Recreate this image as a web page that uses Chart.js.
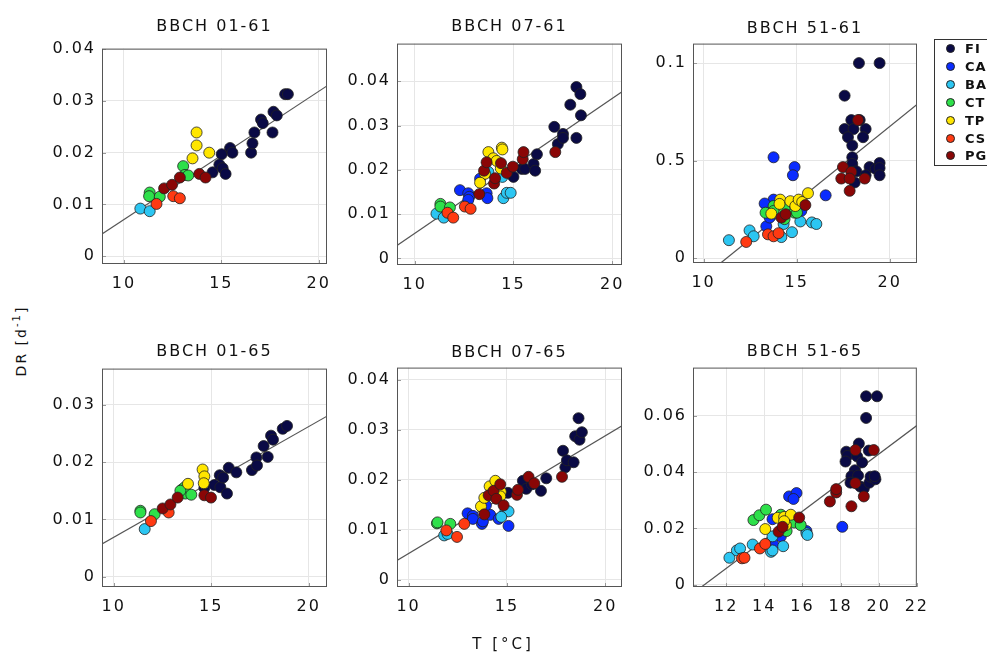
<!DOCTYPE html>
<html>
<head>
<meta charset="UTF-8">
<title>DR vs T</title>
<script src="https://cdn.jsdelivr.net/npm/chart.js"></script>
<style>
  body { margin: 0; background: #fff; width: 987px; height: 653px; overflow: hidden; position: relative;
         font-family: "DejaVu Sans", Verdana, sans-serif; color: #111; }
  canvas { position: absolute; }
  .ttl { position: absolute; text-align: center; font-size: 16px; line-height: 18px; letter-spacing: 2px; }
  .lab { position: absolute; font-size: 15px; line-height: 18px; letter-spacing: 3px; white-space: nowrap; }
  #legend { position: absolute; left: 934px; top: 39px; width: 70px; height: 125px; border: 1px solid #333; }
  .li { position: absolute; left: 12px; font-size: 13px; font-weight: bold; line-height: 14px; letter-spacing: 1px; }
  .li i { position: absolute; left: -1px; top: 2px; width: 9px; height: 9px; border-radius: 50%; border: 1px solid #222; box-sizing: border-box; }
  .li span { position: absolute; left: 18px; top: 0; }
</style>
</head>
<body>

<script>
// site groups, same order in every panel
const groups = ['FI','CA','BA','CT','TP','CS','PG'];
const colors = ['#0a0a45','#0a2cff','#2cc6f2','#2ee04a','#ffe600','#ff3a12','#8a0606'];

const titles = ['BBCH 01-61','BBCH 07-61','BBCH 51-61','BBCH 01-65','BBCH 07-65','BBCH 51-65'];

// axis ranges and ticks per panel
const xRanges = [[8.87,20.43],[9.1,20.5],[9.43,21.47],[9.4,20.94],[9.41,20.85],[10.26,22]];
const yRanges = [[-0.0015,0.0401],[-0.0015,0.0485],[-0.0025,0.110],[-0.0018,0.0363],[-0.0014,0.0424],[-0.0008,0.0772]];
const xTicks = [[10,15,20],[10,15,20],[10,15,20],[10,15,20],[10,15,20],[12,14,16,18,20,22]];
const yTicks = [[0,0.01,0.02,0.03,0.04],[0,0.01,0.02,0.03,0.04],[0,0.05,0.1],[0,0.01,0.02,0.03],[0,0.01,0.02,0.03,0.04],[0,0.02,0.04,0.06]];
const yTickLabels = [['0','0.01','0.02','0.03','0.04'],['0','0.01','0.02','0.03','0.04'],['0','0.5','0.1'],['0','0.01','0.02','0.03'],['0','0.01','0.02','0.03','0.04'],['0','0.02','0.04','0.06']];

// regression line end points
const fitLines = [
  [[8.87,0.0043],[20.43,0.0329]],
  [[9.1,0.0029],[20.5,0.0376]],
  [[10.95,-0.0022],[21.47,0.0788]],
  [[9.4,0.0057],[20.94,0.0280]],
  [[9.41,0.0039],[20.85,0.0308]],
  [[10.7,-0.0008],[22,0.0566]]
];

// --- BBCH 01-61 ---
const p1FI = [[14.55,0.0162],[15.02,0.0197],[14.9,0.0177],[15.07,0.017],[15.22,0.0159],[15.45,0.0209],[15.57,0.02],[16.53,0.02],[16.6,0.0218],[16.7,0.0239],[17.04,0.0264],[17.13,0.0257],[17.63,0.0239],[17.68,0.0279],[17.85,0.0272],[18.28,0.0313],[18.42,0.0313]];
const p1CA = [];
const p1BA = [[10.84,0.0092],[11.32,0.0087]];
const p1CT = [[11.32,0.0123],[11.29,0.0116],[11.84,0.0115],[13.04,0.0174],[13.13,0.0157],[13.3,0.0156]];
const p1TP = [[13.73,0.0239],[13.73,0.0214],[13.52,0.0189],[14.38,0.02]];
const p1CS = [[11.67,0.0101],[12.53,0.0116],[12.87,0.0112]];
const p1PG = [[12.06,0.0131],[12.47,0.0138],[12.87,0.0152],[13.87,0.0159],[14.19,0.0152]];

// --- BBCH 07-61 ---
const p2FI = [[15.0,0.0184],[15.42,0.0202],[15.59,0.0202],[16.02,0.0213],[16.1,0.0198],[16.19,0.0235],[17.07,0.0297],[17.25,0.0258],[17.51,0.0281],[17.51,0.0272],[17.88,0.0347],[18.19,0.0272],[18.19,0.0387],[18.39,0.0371],[18.42,0.0323]];
const p2CA = [[12.29,0.0154],[12.71,0.0147],[12.76,0.0139],[12.71,0.0132],[13.31,0.018],[13.64,0.0147],[13.68,0.0136]];
const p2BA = [[11.1,0.0101],[11.47,0.0092],[13.73,0.0195],[14.44,0.0184],[14.49,0.0136],[14.66,0.0148],[14.86,0.0148]];
const p2CT = [[11.3,0.0123],[11.3,0.0117],[11.78,0.0115]];
const p2TP = [[13.73,0.024],[13.56,0.0191],[13.31,0.0171],[13.98,0.0226],[14.15,0.022],[14.41,0.025],[14.44,0.0246],[14.36,0.0203]];
const p2CS = [[11.66,0.0103],[11.95,0.0092],[12.54,0.0117],[12.83,0.0112]];
const p2PG = [[13.27,0.0145],[13.51,0.0198],[13.64,0.0217],[14.02,0.0169],[14.07,0.0181],[14.37,0.0215],[14.66,0.0193],[14.97,0.0207],[15.47,0.0224],[15.51,0.024],[17.12,0.024]];

// --- BBCH 51-61 ---
const p3FI = [[18.35,0.1],[19.46,0.1],[17.58,0.0833],[17.94,0.0708],[18.39,0.0708],[17.58,0.0662],[18.06,0.0662],[17.76,0.062],[18.71,0.0662],[18.57,0.062],[17.99,0.0578],[17.99,0.0517],[17.99,0.0483],[18.21,0.0445],[18.92,0.0467],[19.25,0.0458],[19.46,0.0488],[19.46,0.0462],[19.46,0.0425],[18.71,0.0425],[18.12,0.0388]];
const p3CA = [[13.76,0.0517],[14.89,0.0467],[14.8,0.0425],[16.56,0.0322],[13.76,0.03],[13.28,0.028],[13.37,0.0163],[13.55,0.0208],[15.25,0.0242]];
const p3BA = [[11.36,0.0092],[12.47,0.0142],[12.69,0.0112],[14.18,0.0108],[14.3,0.0175],[14.75,0.0133],[15.2,0.0188],[15.82,0.0183],[16.06,0.0175]];
const p3CT = [[13.33,0.0233],[13.76,0.0267],[13.76,0.0242],[14.35,0.0255],[14.35,0.02],[14.89,0.0233],[15.02,0.0233]];
const p3TP = [[13.64,0.0228],[14.12,0.03],[14.08,0.0278],[14.66,0.0292],[14.93,0.0267],[15.11,0.03],[15.3,0.0288],[15.61,0.0333]];
const p3CS = [[12.29,0.0083],[13.46,0.0122],[13.76,0.0112],[14.03,0.0128]];
const p3PG = [[17.49,0.0467],[17.94,0.0442],[17.4,0.0408],[17.85,0.0408],[18.66,0.0408],[17.85,0.0345],[18.3,0.0708],[14.18,0.0208],[14.41,0.0225],[15.47,0.0272]];

// --- BBCH 01-65 ---
const p4FI = [[14.65,0.0155],[15.16,0.016],[15.47,0.0156],[15.81,0.0145],[15.44,0.0177],[15.61,0.0173],[15.9,0.019],[16.29,0.0182],[17.09,0.0186],[17.32,0.0208],[17.35,0.0194],[17.9,0.0209],[17.69,0.0228],[18.07,0.0246],[18.17,0.0239],[18.67,0.0258],[18.89,0.0263]];
const p4CA = [];
const p4BA = [[11.59,0.0083]];
const p4CT = [[11.37,0.0115],[11.37,0.0112],[12.1,0.0109],[13.5,0.0152],[13.68,0.0145],[13.64,0.0156],[13.98,0.0143],[13.42,0.015]];
const p4TP = [[13.81,0.0162],[14.56,0.0187],[14.65,0.0175],[14.62,0.0163]];
const p4CS = [[11.91,0.0097],[12.82,0.0112]];
const p4PG = [[12.51,0.0119],[12.91,0.0126],[13.28,0.0138],[14.65,0.0142],[14.99,0.0138]];

// --- BBCH 07-65 ---
const p5FI = [[15.05,0.0174],[15.81,0.0198],[15.98,0.0182],[16.27,0.0191],[16.73,0.0178],[17.0,0.0203],[17.85,0.0258],[17.97,0.0225],[18.05,0.0239],[18.39,0.0235],[18.47,0.0287],[18.64,0.0323],[18.69,0.028],[18.81,0.0295]];
const p5CA = [[13.0,0.0133],[13.27,0.0128],[13.27,0.0122],[13.73,0.0112],[13.78,0.0117],[14.15,0.013],[14.58,0.0122],[15.08,0.0108],[13.93,0.0149]];
const p5BA = [[11.81,0.0089],[11.98,0.0092],[14.92,0.0137],[15.08,0.0137],[14.71,0.0126]];
const p5CT = [[11.44,0.0113],[11.47,0.0115],[12.12,0.0112]];
const p5TP = [[13.68,0.0147],[13.85,0.0164],[14.12,0.0187],[14.41,0.0198],[14.69,0.0176],[14.66,0.0167]];
const p5CS = [[11.92,0.0099],[12.46,0.0086],[12.83,0.0112]];
const p5PG = [[13.85,0.0131],[14.07,0.0169],[14.32,0.0178],[14.46,0.0162],[14.66,0.0191],[14.83,0.0149],[15.51,0.017],[15.56,0.018],[16.1,0.0206],[16.39,0.0193],[17.8,0.0206]];

// --- BBCH 51-65 ---
const p6FI = [[19.34,0.0670],[19.91,0.0670],[19.34,0.0593],[18.96,0.0502],[18.3,0.0473],[18.35,0.0458],[18.26,0.0438],[18.87,0.0456],[19.13,0.0435],[19.48,0.0477],[18.75,0.0407],[18.57,0.0386],[18.92,0.0388],[18.52,0.0363],[19.04,0.0349],[19.22,0.0342],[19.51,0.0363],[19.57,0.0384],[19.83,0.0375],[19.79,0.0386]];
const p6CA = [[15.3,0.0314],[15.69,0.0326],[15.53,0.0305],[14.43,0.0233],[14.87,0.0172],[14.47,0.0143],[16.21,0.0191],[18.09,0.0206]];
const p6BA = [[12.17,0.0096],[12.56,0.0122],[12.73,0.0129],[13.39,0.0143],[14.35,0.0117],[14.43,0.0122],[14.99,0.0137],[14.43,0.0172],[16.21,0.0183],[16.26,0.0177]];
const p6CT = [[13.43,0.023],[13.74,0.0247],[14.09,0.0267],[14.87,0.0249],[15.17,0.0191],[15.57,0.0221],[15.91,0.0212]];
const p6TP = [[14.05,0.0198],[14.7,0.0238],[15.04,0.0241],[15.39,0.0249],[15.13,0.0212],[15.04,0.0226]];
const p6CS = [[12.83,0.0094],[12.96,0.0096],[13.77,0.0129],[14.05,0.0145]];
const p6PG = [[14.75,0.0189],[14.96,0.0206],[15.83,0.0239],[17.44,0.0296],[17.77,0.0328],[17.77,0.034],[18.57,0.0279],[18.78,0.0361],[18.78,0.0479],[19.74,0.0479],[19.22,0.0314]];

const panelData = [
  [p1FI,p1CA,p1BA,p1CT,p1TP,p1CS,p1PG],
  [p2FI,p2CA,p2BA,p2CT,p2TP,p2CS,p2PG],
  [p3FI,p3CA,p3BA,p3CT,p3TP,p3CS,p3PG],
  [p4FI,p4CA,p4BA,p4CT,p4TP,p4CS,p4PG],
  [p5FI,p5CA,p5BA,p5CT,p5TP,p5CS,p5PG],
  [p6FI,p6CA,p6BA,p6CT,p6TP,p6CS,p6PG]
];

// plot box of each panel in page pixels (left, top, right, bottom) + title centre
const boxes = [
  {l:102, t:43, r:327, b:264, ty:26},
  {l:397, t:38, r:622, b:265, ty:26},
  {l:693, t:38, r:917, b:263, ty:28},
  {l:102, t:363, r:327, b:587, ty:351},
  {l:397, t:362, r:622, b:587, ty:352},
  {l:693, t:362, r:917, b:587, ty:351}
];

const AXW = 70, AXH = 35, PADT = 10, PADR = 20;
const font = { family: 'DejaVu Sans', size: 16 };

Chart.defaults.font.family = 'DejaVu Sans';

// full box round the plot + short inward tick marks, and spaced-out tick text
const framePlugin = {
  id: 'frame',
  beforeDraw(chart) { chart.ctx.letterSpacing = '2px'; },
  afterDraw(chart) {
    const { ctx, chartArea: a, scales } = chart;
    ctx.save();
    ctx.strokeStyle = '#999';
    ctx.lineWidth = 1;
    ctx.beginPath();
    scales.x.ticks.forEach(t => {
      const px = Math.round(scales.x.getPixelForValue(t.value)) + 0.5;
      ctx.moveTo(px, a.bottom); ctx.lineTo(px, a.bottom - 4);
    });
    scales.y.ticks.forEach(t => {
      const py = Math.round(scales.y.getPixelForValue(t.value)) + 0.5;
      ctx.moveTo(a.left, py); ctx.lineTo(a.left + 4, py);
    });
    ctx.stroke();
    ctx.strokeStyle = '#555';
    ctx.strokeRect(a.left + 0.5, a.top + 0.5, a.right - a.left - 1, a.bottom - a.top - 1);
    ctx.restore();
  }
};

const toXY = arr => arr.map(p => ({ x: p[0], y: p[1] }));

function makePanel(i) {
  const bx = boxes[i];
  const w = bx.r - bx.l, h = bx.b - bx.t;
  const cv = document.createElement('canvas');
  cv.width = AXW + w + PADR;
  cv.height = PADT + h + AXH;
  cv.style.left = (bx.l - AXW) + 'px';
  cv.style.top = (bx.t - PADT) + 'px';
  document.body.appendChild(cv);

  const t = document.createElement('div');
  t.className = 'ttl';
  t.textContent = titles[i];
  t.style.left = bx.l + 'px';
  t.style.width = w + 'px';
  t.style.top = (bx.ty - 9) + 'px';
  document.body.appendChild(t);

  const datasets = groups.map((g, k) => ({
    label: g,
    data: toXY(panelData[i][k]),
    backgroundColor: colors[k],
    borderColor: '#222',
    borderWidth: 0.8,
    pointRadius: 5.5,
    order: groups.length - k
  }));
  datasets.push({
    label: 'fit',
    data: toXY(fitLines[i]),
    showLine: true,
    borderColor: '#555',
    borderWidth: 1.2,
    pointRadius: 0,
    order: 100
  });

  new Chart(cv, {
    type: 'scatter',
    data: { datasets },
    options: {
      responsive: false,
      animation: false,
      layout: { padding: { left: 0, top: PADT, right: PADR, bottom: 0 } },
      plugins: { legend: { display: false }, tooltip: { enabled: false } },
      scales: {
        x: {
          type: 'linear', min: xRanges[i][0], max: xRanges[i][1],
          afterBuildTicks: s => { s.ticks = xTicks[i].map(v => ({ value: v })); },
          afterFit: s => { s.height = AXH; },
          grid: { color: '#e6e6e6', drawTicks: false },
          border: { display: false },
          ticks: { font, color: '#111', padding: 10, maxRotation: 0, autoSkip: false }
        },
        y: {
          type: 'linear', min: yRanges[i][0], max: yRanges[i][1],
          afterBuildTicks: s => { s.ticks = yTicks[i].map(v => ({ value: v })); },
          afterFit: s => { s.width = AXW; },
          grid: { color: '#e6e6e6', drawTicks: false },
          border: { display: false },
          ticks: { font, color: '#111', padding: 6, autoSkip: false,
                   callback: (v, idx) => yTickLabels[i][idx] }
        }
      }
    },
    plugins: [framePlugin]
  });
}

for (let i = 0; i < 6; i++) makePanel(i);

// legend
const lg = document.createElement('div');
lg.id = 'legend';
groups.forEach((g, k) => {
  const it = document.createElement('div');
  it.className = 'li';
  it.style.top = (2 + k * 17.9) + 'px';
  it.innerHTML = '<i style="background:' + colors[k] + '"></i><span>' + g + '</span>';
  lg.appendChild(it);
});
document.body.appendChild(lg);

// axis labels
const yl = document.createElement('div');
yl.className = 'lab';
yl.innerHTML = 'DR [d<sup style="font-size:10px">-1</sup>]';
yl.style.fontSize = '14px';
yl.style.letterSpacing = '2px';
yl.style.left = '19px';
yl.style.top = '341px';
yl.style.transform = 'translate(-50%,-50%) rotate(-90deg)';
document.body.appendChild(yl);

const xl = document.createElement('div');
xl.className = 'lab';
xl.textContent = 'T [°C]';
xl.style.left = '503px';
xl.style.top = '644px';
xl.style.transform = 'translate(-50%,-50%)';
document.body.appendChild(xl);
</script>
</body>
</html>
